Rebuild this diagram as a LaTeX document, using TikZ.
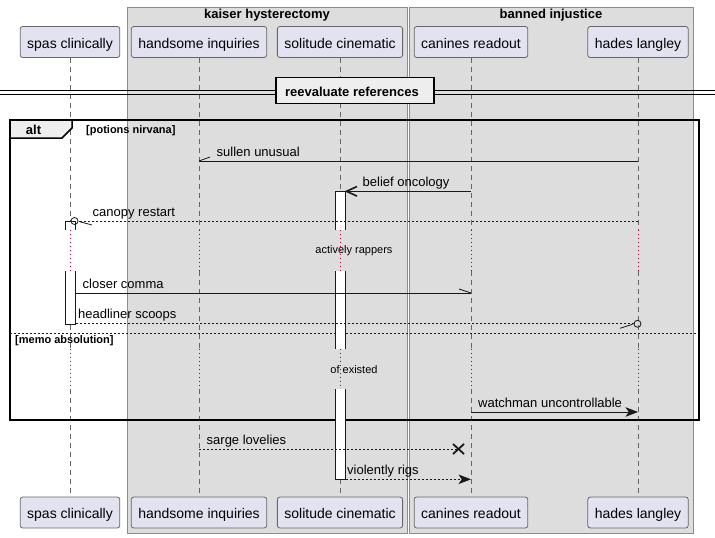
\documentclass[tikz,border=0pt]{standalone}
\usepackage{fontspec}
\setmainfont{Liberation Sans}
\usetikzlibrary{arrows.meta}
\definecolor{partfill}{HTML}{E2E2F0}
\definecolor{boxfill}{HTML}{DDDDDD}
\definecolor{tabfill}{HTML}{EEEEEE}
\definecolor{delayred}{HTML}{A80036}
\tikzset{
  participant/.style={draw=black!60, fill=partfill, rounded corners=2.5pt, line width=0.8pt,
    minimum height=31pt, inner xsep=7pt, text height=12pt, text depth=0pt,
    font=\fontsize{14}{16}\selectfont},
  groupbox/.style={draw=black!45, fill=boxfill, line width=0.8pt},
  grouptitle/.style={font=\bfseries\fontsize{13}{15}\selectfont, inner sep=0pt},
  lifeline/.style={draw=black!60, line width=0.7pt, dash pattern=on 5pt off 4pt},
  delayline/.style={draw=delayred, line width=0.8pt, dash pattern=on 1pt off 3pt},
  delaytext/.style={font=\fontsize{11}{13}\selectfont, inner sep=0pt},
  actbox/.style={fill=white},
  msg/.style={draw=black!90, line width=0.8pt},
  msgdot/.style={msg, dash pattern=on 2pt off 2pt},
  msglbl/.style={font=\fontsize{13}{15}\selectfont, inner sep=0pt, anchor=base west},
  filledhead/.style={-{Stealth[length=12.5pt, width=9.5pt, inset=3.3pt]}},
  guardlbl/.style={font=\bfseries\fontsize{11}{13}\selectfont, inner sep=0pt, anchor=west}
}
\begin{document}
\begin{tikzpicture}[x=1pt,y=-1pt]
    \useasboundingbox (0,0) rectangle (715,538);

    \def\xSpas{70}
    \def\xHand{199}
    \def\xSol{340}
    \def\xCan{471}
    \def\xHad{638}
    \def\yTop{42}
    \def\yBot{512.5}

    \newcommand{\halfhead}[3]
    {
      { \draw[msg] (#1) -- ++(#2,#3); }
    }
    \newcommand{\circhead}[2]
    {
      { \draw[msg] ([xshift=#2]#1) circle[radius=3.5pt]; }
    }

    % Boxes
    \fill[groupbox] (127,7) rectangle (407,533);
    \fill[groupbox] (409,7) rectangle (693,533);
    \draw[groupbox, fill=none] (127,7) rectangle (407,533);
    \draw[groupbox, fill=none] (409,7) rectangle (693,533);
    \node[grouptitle] (kaiser) at (267,15) {kaiser hysterectomy};
    \node[grouptitle] (banned) at (551,15) {banned injustice};

    % Participants
    \foreach \p/\x/\t in {spas/\xSpas/spas clinically, hand/\xHand/handsome inquiries,
        sol/\xSol/solitude cinematic, can/\xCan/canines readout, had/\xHad/hades langley}
    {
        \node[participant] (\p-top) at (\x,\yTop) {\t};
        \node[participant] (\p-bot) at (\x,\yBot) {\t};
    }

    % Lifelines, dotted during the delays
    \coordinate (dA1) at (0,229.5);
    \coordinate (dA2) at (0,271);
    \coordinate (dB1) at (0,348.5);
    \coordinate (dB2) at (0,389);
    \foreach \p in {spas,hand,sol,can,had}
    {
        \draw[lifeline] (\p-top.south) -- (\p-top |- dA1);
        \draw[delayline] (\p-top |- dA1) -- (\p-top |- dA2);
        \draw[lifeline] (\p-top |- dA2) -- (\p-top |- dB1);
        \draw[delayline] (\p-top |- dB1) -- (\p-top |- dB2);
        \draw[lifeline] (\p-top |- dB2) -- (\p-bot.north);
    }

    % Divider
    \draw[line width=0.8pt] (0,90) -- (715,90);
    \draw[line width=0.8pt] (0,94) -- (715,94);
    \draw[fill=tabfill, line width=1.5pt] (276,77.5) rectangle (434,103.5);
    \node[grouptitle] (reeval) at (352,91.5) {reevaluate references};

    % Alt frame
    \draw[line width=1.5pt] (10,120) rectangle (699,420);
    \draw[fill=tabfill, line width=1.5pt] (10,120) -- (72,120) -- (72,128) -- (62,138) -- (10,138) -- cycle;
    \node[grouptitle] (alt) at (33.5,129.5) {alt};
    \node[guardlbl] (guard1) at (86,130.5) {[potions nirvana]};
    \draw[msg, dash pattern=on 2pt off 2pt] (10,333.3) -- (699,333.3);
    \node[guardlbl] (guard2) at (15,341) {[memo absolution]};

    % Activations
    \fill[actbox] (335.5,191.3) rectangle (345.5,229.5);
    \fill[actbox] (335.5,271) rectangle (345.5,348.5);
    \fill[actbox] (335.5,389) rectangle (345.5,479.3);
    \draw[msg] (335.5,229.5) -- (335.5,191.3) -- (345.5,191.3) -- (345.5,229.5);
    \draw[msg] (335.5,271) -- (335.5,348.5);
    \draw[msg] (345.5,271) -- (345.5,348.5);
    \draw[msg] (335.5,389) -- (335.5,479.3) -- (345.5,479.3) -- (345.5,389);
    \fill[actbox] (65.5,221.5) rectangle (75.5,229.5);
    \fill[actbox] (65.5,271) rectangle (75.5,324.3);
    \draw[msg] (65.5,229.5) -- (65.5,221.5) -- (75.5,221.5) -- (75.5,229.5);
    \draw[msg] (65.5,271) -- (65.5,324.3) -- (75.5,324.3) -- (75.5,271);

    % Messages
    \coordinate (sulA) at (\xHad,161);
    \coordinate (sulB) at (\xHand,161);
    \draw[msg] (sulA) -- (sulB);
    \halfhead{sulB}{11}{-4};
    \node[msglbl] (sulL) at ([xshift=17.5pt, yshift=4.5pt]sulB) {sullen unusual};

    \coordinate (belA) at (\xCan,191.3);
    \coordinate (belB) at (346.5,191.3);
    \draw[msg] (belA) -- (belB);
    \draw[msg, line width=1.6pt] ([shift={(10.5,-4.8)}]belB) -- (belB) -- ++(10.5,4.8);
    \node[msglbl] (belL) at ([xshift=16pt, yshift=4.5pt]belB) {belief oncology};

    \coordinate (canA) at (\xHad,221);
    \coordinate (canB) at (78,221);
    \draw[msgdot] (canA) -- (canB);
    \circhead{canB}{-3.5pt}
    \draw[msg] ([xshift=1pt, yshift=-0.5pt]canB) -- ++(13,3.5);
    \node[msglbl] (canL) at ([xshift=14.5pt, yshift=5pt]canB) {canopy restart};

    \node[delaytext] (delayA) at (354,251) {actively rappers};

    \coordinate (cloA) at (75.5,293);
    \coordinate (cloB) at (\xCan,293);
    \draw[msg] (cloA) -- (cloB);
    \halfhead{cloB}{-12}{-4};
    \node[msglbl] (cloL) at ([xshift=7pt, yshift=4.5pt]cloA) {closer comma};

    \coordinate (heaA) at (75.5,323.8);
    \coordinate (heaB) at (634,323.8);
    \draw[msgdot] (heaA) -- (heaB);
    \circhead{heaB}{3.5pt}
    \draw[msg] ([xshift=-1.5pt, yshift=-0.5pt]heaB) -- ++(-12.5,4);
    \node[msglbl] (heaL) at ([xshift=2.5pt, yshift=5pt]heaA) {headliner scoops};

    \node[delaytext] (delayB) at (354,370) {of existed};

    \coordinate (watA) at (\xCan,412);
    \coordinate (watB) at (\xHad,412);
    \draw[msg, filledhead] (watA) -- (watB);
    \node[msglbl] (watL) at ([xshift=7pt, yshift=4.5pt]watA) {watchman uncontrollable};

    \coordinate (sarA) at (\xHand,449);
    \coordinate (sarB) at (458.5,449);
    \draw[msgdot] (sarA) -- (sarB);
    \draw[msg, line width=1.8pt] ([shift={(-5.5,-5)}]sarB) -- ++(11,10);
    \draw[msg, line width=1.8pt] ([shift={(-5.5,5)}]sarB) -- ++(11,-10);
    \node[msglbl] (sarL) at ([xshift=7.5pt, yshift=4.5pt]sarA) {sarge lovelies};

    \coordinate (vioA) at (345.5,479.3);
    \coordinate (vioB) at (\xCan,479.3);
    \draw[msgdot, filledhead] (vioA) -- (vioB);
    \node[msglbl] (vioL) at ([xshift=1.5pt, yshift=4.5pt]vioA) {violently rigs};
\end{tikzpicture}
\end{document}
